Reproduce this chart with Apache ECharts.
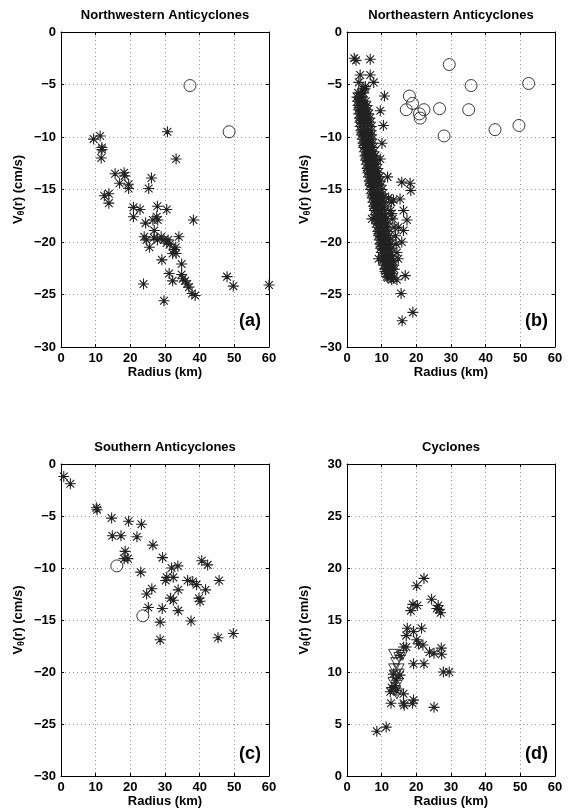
<!DOCTYPE html>
<html lang="en">
<head>
<meta charset="UTF-8">
<title>V_theta(r) vs radius</title>
<script src="https://cdn.jsdelivr.net/npm/echarts@6/dist/echarts.min.js"></script>
<style>
    html, body {margin: 0; padding: 0; background: #fff;}
    #main {width: 569px; height: 809px;}
</style>
</head>
<body>
<div id="main"></div>
<script>
// ---- data: [radius km, V_theta cm/s] ----
var radiusTicks = [0, 60, 10];
var antiTicks = [-30, 0, 5];
var cycTicks = [0, 30, 5];

var nwStars = [[9.4,-10.2],[11.3,-9.9],[11.8,-11.0],[11.8,-11.2],[11.6,-12.0],[15.6,-13.5],[18.2,-13.4],[18.4,-13.7],
    [16.9,-14.4],[19.5,-14.5],[19.5,-14.9],[12.5,-15.6],[13.8,-15.4],[13.8,-16.3],[20.9,-16.7],[20.9,-17.6],[22.8,-16.9],
    [26.1,-13.9],[25.3,-14.9],[30.7,-9.5],[33.2,-12.1],[27.8,-16.6],[30.5,-16.9],[24.4,-18.2],[26.5,-17.9],[27.6,-17.6],
    [27.9,-17.9],[38.2,-17.9],[24.0,-19.5],[24.7,-19.8],[25.5,-20.5],[26.9,-18.9],[26.8,-19.6],[27.8,-19.8],[28.9,-19.5],
    [29.7,-19.8],[30.5,-20.1],[30.9,-19.8],[31.4,-20.2],[34.0,-19.5],[32.2,-21.1],[32.6,-20.7],[33.2,-21.1],[33.1,-20.5],
    [29.1,-21.7],[34.8,-22.1],[31.2,-23.0],[32.2,-23.7],[34.8,-23.1],[35.1,-23.5],[35.8,-23.7],[36.4,-24.0],[36.9,-24.3],
    [37.8,-24.9],[38.7,-25.1],[23.8,-24.0],[29.7,-25.6],[47.9,-23.3],[49.7,-24.2],[60.0,-24.1]];
var nwCircles = [[37.2,-5.1],[48.5,-9.5]];

var neStars = [
    [2.1,-2.5],[2.6,-2.7],[6.7,-2.6],[3.8,-4.1],[6.7,-4.1],[3.4,-4.8],[7.7,-4.8],[5.3,-5.2],[10.8,-6.1],[9.6,-7.5],
    [10.5,-8.9],[10.1,-10.6],[9.6,-12.1],[11.7,-13.8],[15.8,-14.3],[18.2,-14.4],[18.4,-15.1],[13.4,-16.0],[15.3,-15.9],
    [16.3,-17.0],[12.9,-17.3],[17.3,-17.9],[14.8,-18.6],[16.3,-18.9],[7.2,-17.8],[15.8,-20.0],[14.8,-21.6],[9.1,-21.6],
    [16.8,-23.2],[14.4,-23.6],[15.6,-24.9],[19.0,-26.7],[15.9,-27.5],[11.5,-23.3],[12.9,-23.6],
    [4.6,-5.4],[5.2,-5.4],
    [3.2,-5.8],[4.0,-5.8],[4.8,-5.8],
    [2.9,-6.2],[3.6,-6.2],[4.4,-6.2],
    [3.0,-6.6],[3.8,-6.6],[4.6,-6.6],[5.4,-6.6],
    [3.2,-7.0],[4.1,-7.0],[5.0,-7.0],[5.8,-7.0],
    [3.3,-7.4],[4.3,-7.4],[5.2,-7.4],[6.0,-7.4],
    [3.4,-7.8],[4.4,-7.8],[5.4,-7.8],[6.3,-7.8],
    [3.6,-8.2],[4.6,-8.2],[5.5,-8.2],[6.6,-8.2],
    [3.7,-8.6],[4.7,-8.6],[5.7,-8.6],[6.8,-8.6],
    [3.8,-9.0],[4.9,-9.0],[5.9,-9.0],[7.0,-9.0],
    [4.0,-9.4],[5.0,-9.4],[6.0,-9.4],[7.0,-9.4],
    [4.2,-9.8],[5.2,-9.8],[6.2,-9.8],[7.1,-9.8],
    [4.4,-10.2],[5.4,-10.2],[6.3,-10.2],[7.2,-10.2],
    [4.6,-10.6],[5.6,-10.6],[6.5,-10.6],[7.4,-10.6],
    [4.8,-11.0],[5.8,-11.0],[6.7,-11.0],[7.6,-11.0],
    [5.0,-11.4],[6.0,-11.4],[6.9,-11.4],[7.8,-11.4],
    [5.2,-11.8],[6.2,-11.8],[7.1,-11.8],[8.1,-11.8],
    [5.4,-12.2],[6.4,-12.2],[7.4,-12.2],[8.3,-12.2],
    [5.6,-12.6],[6.6,-12.6],[7.6,-12.6],[8.6,-12.6],
    [5.8,-13.0],[6.8,-13.0],[7.8,-13.0],[8.9,-13.0],
    [6.0,-13.4],[7.0,-13.4],[8.0,-13.4],[9.1,-13.4],
    [6.2,-13.8],[7.2,-13.8],[8.3,-13.8],[9.4,-13.8],
    [6.4,-14.2],[7.4,-14.2],[8.5,-14.2],[9.6,-14.2],
    [6.6,-14.6],[7.6,-14.6],[8.7,-14.6],[9.9,-14.6],
    [6.8,-15.0],[7.8,-15.0],[8.9,-15.0],[10.1,-15.0],
    [7.0,-15.4],[8.0,-15.4],[9.1,-15.4],[10.3,-15.4],
    [7.3,-15.8],[8.3,-15.8],[9.3,-15.8],[10.5,-15.8],[12.0,-15.8],
    [7.5,-16.2],[8.5,-16.2],[9.5,-16.2],[10.7,-16.2],[12.8,-16.2],
    [7.7,-16.6],[8.7,-16.6],[9.7,-16.6],[10.8,-16.6],
    [7.9,-17.0],[8.9,-17.0],[9.9,-17.0],[11.0,-17.0],[12.5,-17.0],
    [8.1,-17.4],[9.1,-17.4],[10.1,-17.4],[11.1,-17.4],
    [8.3,-17.8],[9.3,-17.8],[10.3,-17.8],[11.3,-17.8],[13.2,-17.8],
    [8.5,-18.2],[9.5,-18.2],[10.5,-18.2],[11.5,-18.2],
    [8.7,-18.6],[9.7,-18.6],[10.7,-18.6],[11.7,-18.6],[13.6,-18.6],
    [8.9,-19.0],[9.9,-19.0],[10.9,-19.0],[11.9,-19.0],
    [9.1,-19.4],[10.1,-19.4],[11.1,-19.4],[12.1,-19.4],[14.0,-19.4],
    [9.3,-19.8],[10.3,-19.8],[11.3,-19.8],[12.3,-19.8],
    [9.5,-20.2],[10.5,-20.2],[11.5,-20.2],[12.5,-20.2],[14.2,-20.2],
    [9.7,-20.6],[10.7,-20.6],[11.7,-20.6],[12.7,-20.6],
    [9.9,-21.0],[10.9,-21.0],[11.9,-21.0],[12.9,-21.0],[14.4,-21.0],
    [10.1,-21.4],[11.1,-21.4],[12.1,-21.4],[13.1,-21.4],
    [10.3,-21.8],[11.3,-21.8],[12.3,-21.8],[13.3,-21.8],
    [10.6,-22.2],[11.6,-22.2],[12.6,-22.2],[13.5,-22.2],
    [10.9,-22.6],[11.9,-22.6],[12.9,-22.6],[13.7,-22.6],
    [11.3,-23.0],[12.2,-23.0],[13.1,-23.0],
    [11.8,-23.4],[12.6,-23.4],[13.4,-23.4],
    // denser core, offset half a row
    [3.5,-7.2],[4.6,-7.2],[3.9,-8.4],[5.1,-8.4],[4.3,-9.6],[5.6,-9.6],[4.9,-10.8],[6.1,-10.8],[5.5,-12.0],[6.8,-12.0],
    [6.1,-13.2],[7.4,-13.2],[6.7,-14.4],[8.0,-14.4],[7.4,-15.6],[8.7,-15.6],[8.0,-16.8],[9.3,-16.8],[8.6,-18.0],[9.9,-18.0],
    [9.2,-19.2],[10.5,-19.2],[9.8,-20.4],[11.1,-20.4],[10.4,-21.6],[11.7,-21.6],[11.0,-22.8],[12.3,-22.8]];
var neCircles = [[29.5,-3.1],[35.8,-5.1],[52.4,-4.9],[18.0,-6.1],[18.9,-6.8],[17.1,-7.4],[22.2,-7.4],[20.9,-7.8],
    [21.1,-8.2],[26.7,-7.3],[35.1,-7.4],[28.0,-9.9],[42.7,-9.3],[49.6,-8.9]];

var sStars = [[0.8,-1.2],[2.7,-1.9],[10.2,-4.2],[10.4,-4.4],[14.6,-5.2],[19.5,-5.5],[23.2,-5.8],[14.8,-6.9],[17.3,-6.9],
    [21.9,-7.0],[26.5,-7.8],[18.5,-8.4],[18.2,-9.1],[19.3,-9.1],[29.3,-9.0],[31.9,-10.0],[33.7,-9.8],[23.0,-10.4],
    [30.5,-10.9],[30.2,-11.2],[32.4,-10.9],[40.6,-9.3],[42.3,-9.7],[45.6,-11.2],[36.5,-11.2],[38.0,-11.3],[39.1,-11.6],
    [41.7,-12.1],[26.2,-12.0],[24.7,-12.5],[33.8,-12.1],[31.6,-12.9],[32.4,-13.1],[39.8,-12.9],[40.1,-13.2],[25.2,-13.8],
    [29.2,-13.9],[33.8,-14.1],[28.6,-15.2],[37.5,-15.1],[28.6,-16.9],[45.3,-16.7],[49.7,-16.3]];
var sCircles = [[16.1,-9.8],[23.6,-14.6]];

var cycStars = [[8.6,4.3],[11.3,4.7],[12.7,7.0],[12.5,8.1],[12.9,8.5],[13.9,8.7],[14.4,8.2],[14.2,9.2],[13.4,9.8],
    [15.3,9.7],[16.3,7.9],[16.3,7.0],[16.5,6.8],[18.9,7.0],[19.2,7.3],[25.1,6.6],[15.3,11.6],[16.3,12.4],[17.1,12.4],
    [17.1,13.5],[17.4,14.2],[19.2,13.9],[21.5,14.2],[20.1,13.1],[20.6,12.7],[21.9,12.6],[18.4,15.9],[19.0,16.5],
    [20.3,16.4],[20.1,18.3],[22.2,19.0],[24.4,17.0],[25.9,16.1],[26.6,16.0],[27.0,15.7],[26.3,16.4],[19.2,10.8],
    [22.2,10.8],[23.8,11.9],[25.1,11.8],[27.2,12.3],[27.3,11.7],[27.8,10.0],[29.5,10.0]];
var cycTriangles = [[13.6,11.7],[15.1,11.4],[15.9,11.6],[14.2,10.9],[13.6,10.3],[14.9,10.3],[13.8,9.7],[14.9,9.8],
    [13.4,9.0],[14.6,8.9],[13.8,8.2],[14.4,7.9]];

var panels = [
    {title: 'Northwestern Anticyclones', tag: '(a)', left: 61, top: 32, height: 315, y: antiTicks, stars: nwStars, open: nwCircles, openSym: 'circle'},
    {title: 'Northeastern Anticyclones', tag: '(b)', left: 347, top: 32, height: 315, y: antiTicks, stars: neStars, open: neCircles, openSym: 'circle'},
    {title: 'Southern Anticyclones', tag: '(c)', left: 61, top: 464, height: 316, y: antiTicks, stars: sStars, open: sCircles, openSym: 'circle'},
    {title: 'Cyclones', tag: '(d)', left: 347, top: 464, height: 316, y: cycTicks, stars: cycStars, open: cycTriangles, openSym: 'path://M0,0L20,0L10,17Z'}
];

var font = '"Liberation Sans", Arial, sans-serif';
var starPath = 'path://M10,0V20M0,10H20M2.93,2.93L17.07,17.07M2.93,17.07L17.07,2.93M8.6,10a1.4,1.4 0 1,0 2.8,0a1.4,1.4 0 1,0 -2.8,0';
function minus(v) { return String(v).replace('-', '\u2212'); }

var grids = [], xAxes = [], yAxes = [], titles = [], series = [], tags = [];
var black = {color: '#000', width: 1};

panels.forEach(function (p, i) {
    grids.push({left: p.left, top: p.top, width: 208, height: p.height});
    titles.push({
        text: p.title, left: p.left + 104, top: p.top - 23, textAlign: 'center', padding: 0,
        textStyle: {fontSize: 13, fontWeight: 'bold', fontFamily: font, color: '#000'}
    });
    // bottom + top
    xAxes.push({
        gridIndex: i, type: 'value', position: 'bottom',
        min: radiusTicks[0], max: radiusTicks[1], interval: radiusTicks[2],
        name: 'Radius (km)', nameLocation: 'middle', nameGap: 19,
        nameTextStyle: {fontSize: 13, fontWeight: 'bold', fontFamily: font, color: '#000'},
        axisLine: {onZero: false, lineStyle: black},
        axisTick: {inside: true, length: 3, lineStyle: black},
        axisLabel: {margin: 5, fontSize: 13, fontWeight: 'bold', fontFamily: font, color: '#000'},
        splitLine: {show: true, lineStyle: {type: [1, 3], color: '#999'}}
    });
    xAxes.push({
        gridIndex: i, type: 'value', position: 'top',
        min: radiusTicks[0], max: radiusTicks[1], interval: radiusTicks[2],
        axisLine: {onZero: false, lineStyle: black},
        axisTick: {inside: true, length: 3, lineStyle: black},
        axisLabel: {show: false}, splitLine: {show: false}
    });
    yAxes.push({
        gridIndex: i, type: 'value', position: 'left',
        min: p.y[0], max: p.y[1], interval: p.y[2],
        name: 'V{s|\u03b8}(r) (cm/s)', nameLocation: 'middle', nameGap: 35, nameRotate: 90,
        nameTextStyle: {
            fontSize: 13, fontWeight: 'bold', fontFamily: font, color: '#000',
            rich: {s: {fontSize: 9, fontWeight: 'bold', fontFamily: font, color: '#000', padding: [7, 0, 0, 0]}}
        },
        axisLine: {onZero: false, lineStyle: black},
        axisTick: {inside: true, length: 3, lineStyle: black},
        axisLabel: {margin: 5, fontSize: 13, fontWeight: 'bold', fontFamily: font, color: '#000', formatter: minus},
        splitLine: {show: true, lineStyle: {type: [1, 3], color: '#999'}}
    });
    yAxes.push({
        gridIndex: i, type: 'value', position: 'right',
        min: p.y[0], max: p.y[1], interval: p.y[2],
        axisLine: {onZero: false, lineStyle: black},
        axisTick: {inside: true, length: 3, lineStyle: black},
        axisLabel: {show: false}, splitLine: {show: false}
    });
    series.push({
        type: 'scatter', xAxisIndex: 2 * i, yAxisIndex: 2 * i, data: p.stars,
        symbol: starPath, symbolSize: 11, silent: true,
        itemStyle: {color: '#000', borderColor: '#222', borderWidth: 1.1, opacity: 1}
    });
    series.push({
        type: 'scatter', xAxisIndex: 2 * i, yAxisIndex: 2 * i, data: p.open,
        symbol: p.openSym, symbolSize: i === 3 ? [11, 10] : 12, silent: true,
        itemStyle: {color: 'rgba(0,0,0,0)', borderColor: '#222', borderWidth: 0.9, opacity: 1}
    });
    tags.push({
        type: 'text', left: p.left + 178, top: p.top + p.height - 35,
        style: {text: p.tag, font: 'bold 18px ' + font, fill: '#000'}
    });
});

var chart = echarts.init(document.getElementById('main'));
chart.setOption({
    animation: false,
    backgroundColor: '#fff',
    title: titles,
    grid: grids,
    xAxis: xAxes,
    yAxis: yAxes,
    series: series,
    graphic: tags
});
</script>
</body>
</html>
